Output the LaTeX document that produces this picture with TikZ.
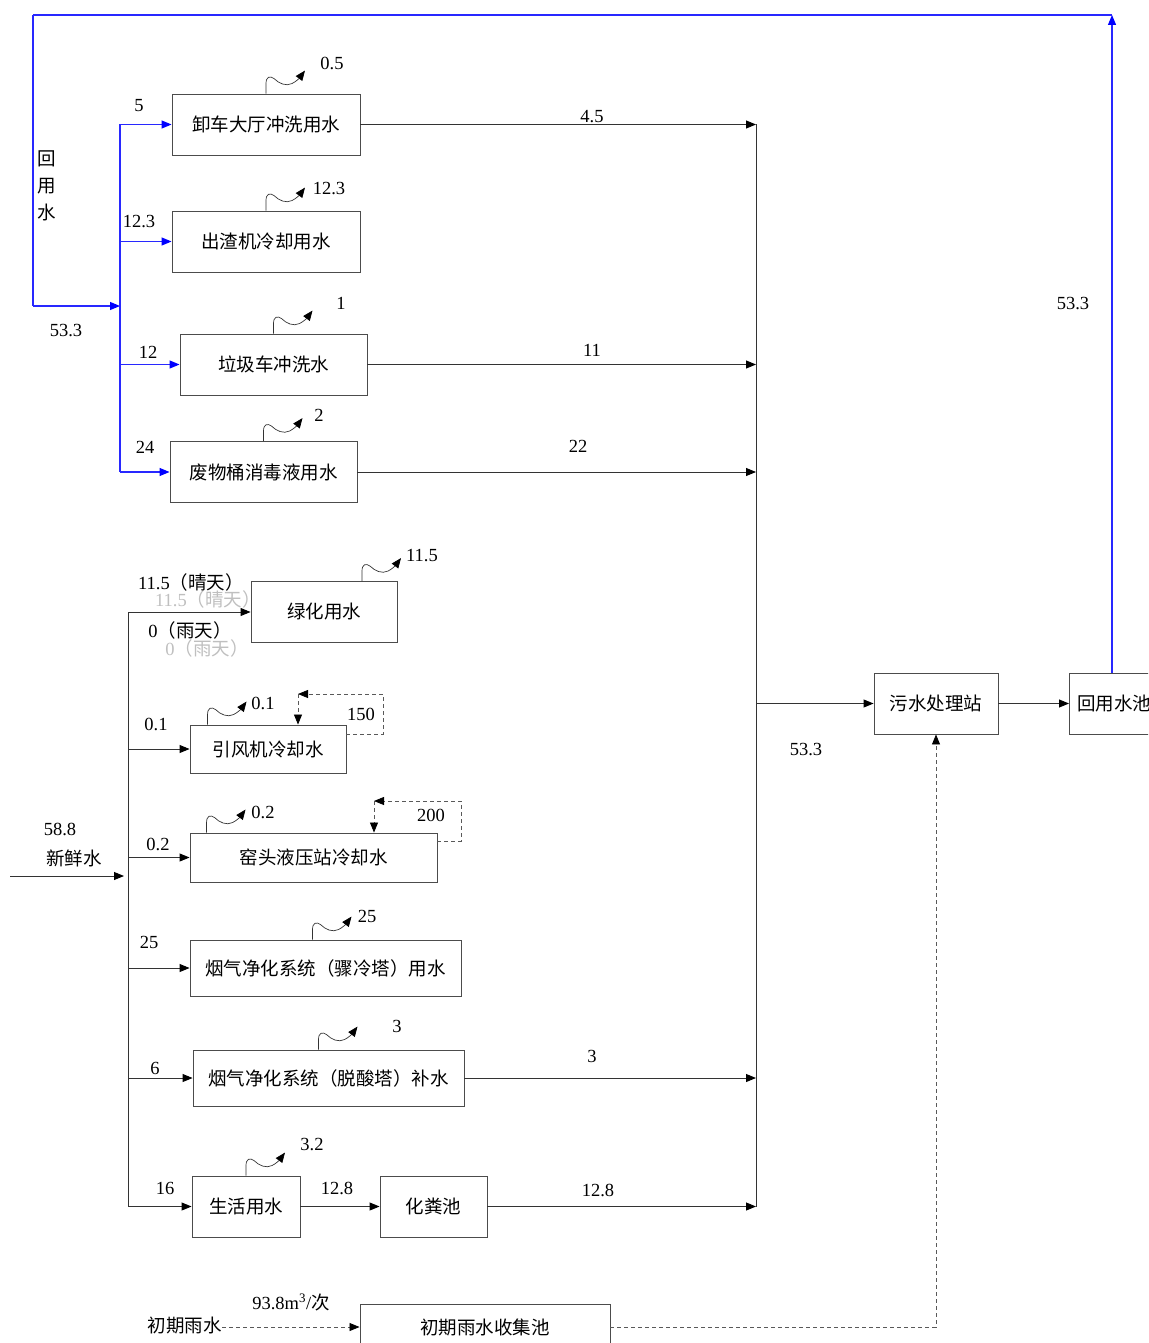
\documentclass[tikz,border=0pt]{standalone}
\usepackage{fontspec}
\setmainfont{Liberation Serif}
\newfontfamily\cjk{Noto Sans CJK SC}
\usetikzlibrary{arrows.meta,calc}
\definecolor{recyc}{RGB}{40,40,255}
\tikzset{
  ln/.style={draw=black!80, line width=0.9pt},
  ar/.style={ln, -{Triangle[length=10pt,width=8pt,black]}},
  bl/.style={draw=recyc, line width=1.1pt},
  blar/.style={bl, -{Triangle[length=10pt,width=8pt,blue]}},
  dsh/.style={draw=black!65, line width=0.8pt, dash pattern=on 4pt off 3pt},
  dsar/.style={dsh, -{Triangle[length=10pt,width=8pt,black]}},
  box/.style={draw=black!70, line width=0.9pt, fill=white, font=\cjk\fontsize{18.5}{20}\selectfont, inner sep=0pt, minimum height=61pt},
  lbl/.style={font=\fontsize{18.5}{20}\selectfont, inner sep=0pt},
  clbl/.style={font=\cjk\fontsize{18.5}{20}\selectfont, inner sep=0pt},
  ghost/.style={lbl, text=black!25},
}
\newcommand\vapor[1]{\draw[ar, line width=0.7pt, shift={(#1)}] (0,0) -- (0,-10) .. controls (0,-17) and (4,-18) .. (8,-15) .. controls (13,-10) and (20,-7) .. (26,-10) .. controls (30,-12) and (33,-15) .. (39,-23);}
\begin{document}
\begin{tikzpicture}[x=1pt,y=-1pt]
\useasboundingbox (0,0) rectangle (1148,1343);
\clip (0,0) rectangle (1148,1343);

% ghost labels (behind boxes)
\node[ghost] (g1) at (208,599) {11.5{\cjk（晴天）}};
\node[ghost] (g2) at (207,648) {0{\cjk（雨天）}};

% boxes
\node[box, minimum width=188pt] (b1) at (266,124.5) {卸车大厅冲洗用水};
\node[box, minimum width=188pt] (b2) at (266,241.5) {出渣机冷却用水};
\node[box, minimum width=187pt] (b3) at (273.5,364.5) {垃圾车冲洗水};
\node[box, minimum width=187pt] (b4) at (263.5,472) {废物桶消毒液用水};
\node[box, minimum width=146pt] (b5) at (324,612) {绿化用水};
\node[box, minimum width=156pt, minimum height=48pt] (b6) at (268,749) {引风机冷却水};
\node[box, minimum width=247pt, minimum height=49pt] (b7) at (313.5,857.5) {窑头液压站冷却水};
\node[box, minimum width=271pt, minimum height=56pt] (b8) at (325.5,968) {烟气净化系统（骤冷塔）用水};
\node[box, minimum width=271pt, minimum height=56pt] (b9) at (328.5,1078) {烟气净化系统（脱酸塔）补水};
\node[box, minimum width=108pt] (b10) at (246,1206.5) {生活用水};
\node[box, minimum width=107pt] (b11) at (433.5,1206.5) {化粪池};
\node[box, minimum width=124pt] (b12) at (936,703.5) {污水处理站};
\node[box, minimum width=90pt, anchor=west] (b13) at (1069,703.5) {回用水池};
\node[box, minimum width=250pt, minimum height=46pt] (b14) at (485,1327) {初期雨水收集池};

% ---- recycled water (blue) ----
\coordinate (pooltop) at ($(b13.north west)+(43,0)$);
\coordinate (tr) at (1112,15);
\coordinate (tl) at (33,15);
\coordinate (lb) at (33,306);
\coordinate (btop) at (120,124.5);
\coordinate (bbot) at (120,472);
\coordinate (bfeed) at (120,306);
\draw[blar] (pooltop) -- (tr);
\draw[bl] (tr) -- (tl);
\draw[bl] (tl) -- (lb);
\draw[blar] (lb) -- (bfeed);
\draw[bl] (btop) -- (bbot);
\draw[blar] (btop) -- (b1.west);
\draw[blar] (b2.west -| btop) -- (b2.west);
\draw[blar] (b3.west -| btop) -- (b3.west);
\draw[blar] (bbot) -- (b4.west);
\node[lbl] (l5) at (139,106) {5};
\node[lbl] (l123) at (139,222) {12.3};
\node[lbl] (l12) at (148,352) {12};
\node[lbl] (l24) at (145,447) {24};
\node[lbl] (l533a) at (66,331) {53.3};
\node[clbl, align=center, font=\cjk\fontsize{18.5}{27}\selectfont] (hys) at (47,186) {回\\用\\水};
\node[lbl] (l533b) at (1073,304) {53.3};

% ---- collector ----
\coordinate (ctop) at (756,124.5);
\coordinate (cbot) at (756,1206.5);
\coordinate (cmid) at (756,703.5);
\draw[ln] (ctop) -- (cbot);
\draw[ar] (b1.east) -- (ctop);
\draw[ar] (b3.east) -- (b3.east -| ctop);
\draw[ar] (b4.east) -- (b4.east -| ctop);
\draw[ar] (b9.east) -- (b9.east -| ctop);
\draw[ar] (b11.east) -- (cbot);
\draw[ar] (cmid) -- (b12.west);
\draw[ar] (b12.east) -- (b13.west);
\node[lbl] (l45) at (592,117) {4.5};
\node[lbl] (l11) at (592,350) {11};
\node[lbl] (l22) at (578,446) {22};
\node[lbl] (l3o) at (592,1056) {3};
\node[lbl] (l128o) at (598,1190) {12.8};
\node[lbl] (l533c) at (806,749) {53.3};

% ---- fresh water ----
\coordinate (fin) at (10,876);
\coordinate (ftop) at (128,612);
\coordinate (fbot) at (128,1206.5);
\coordinate (fend) at (124,876);
\draw[ar] (fin) -- (fend);
\draw[ln] (ftop) -- (fbot);
\draw[ar] (ftop) -- (b5.west);
\draw[ar] (b6.west -| ftop) -- (b6.west);
\draw[ar] (b7.west -| ftop) -- (b7.west);
\draw[ar] (b8.west -| ftop) -- (b8.west);
\draw[ar] (b9.west -| ftop) -- (b9.west);
\draw[ar] (fbot) -- (b10.west);
\draw[ar] (b10.east) -- (b11.west);
\node[lbl] (l588) at (60,829) {58.8};
\node[clbl] (xxs) at (74,858) {新鲜水};
\node[lbl] (l115q) at (191,582) {11.5{\cjk（晴天）}};
\node[lbl] (l0y) at (190,630) {0{\cjk（雨天）}};
\node[lbl] (l01i) at (156,724) {0.1};
\node[lbl] (l02i) at (158,844) {0.2};
\node[lbl] (l25i) at (149,942) {25};
\node[lbl] (l6i) at (155,1068) {6};
\node[lbl] (l16i) at (165,1188) {16};
\node[lbl] (l128i) at (337,1188) {12.8};

% ---- evaporation ----
\coordinate (v1) at (b1.north);
\coordinate (v2) at (b2.north);
\coordinate (v3) at (b3.north);
\coordinate (v4) at (b4.north);
\coordinate (v5) at ($(b5.north)+(38,0)$);
\coordinate (v6) at ($(b6.north west)+(18,0)$);
\coordinate (v7) at ($(b7.north west)+(17,0)$);
\coordinate (v8) at ($(b8.north)+(-13,0)$);
\coordinate (v9) at ($(b9.north)+(-10,0)$);
\coordinate (v10) at (b10.north);
\vapor{v1}\vapor{v2}\vapor{v3}\vapor{v4}\vapor{v5}
\vapor{v6}\vapor{v7}\vapor{v8}\vapor{v9}\vapor{v10}
\node[lbl] (e1) at (332,63) {0.5};
\node[lbl] (e2) at (329,189) {12.3};
\node[lbl] (e3) at (341,303) {1};
\node[lbl] (e4) at (319,415) {2};
\node[lbl] (e5) at (422,556) {11.5};
\node[lbl] (e6) at (263,703) {0.1};
\node[lbl] (e7) at (263,812) {0.2};
\node[lbl] (e8) at (367,916) {25};
\node[lbl] (e9) at (397,1026) {3};
\node[lbl] (e10) at (312,1144) {3.2};

% ---- circulating loops ----
\coordinate (r6a) at ($(b6.east)+(0,-15)$);
\coordinate (r6b) at (383,734);
\coordinate (r6c) at (383,694);
\coordinate (r6d) at (298,694);
\draw[dsar] (r6a) -- (r6b) -- (r6c) -- (r6d);
\draw[dsar] (r6d) -- (r6d |- b6.north);
\node[lbl] (c150) at (361,714) {150};
\coordinate (r7a) at ($(b7.east)+(0,-16.5)$);
\coordinate (r7b) at (461,841);
\coordinate (r7c) at (461,801);
\coordinate (r7d) at (374,801);
\draw[dsar] (r7a) -- (r7b) -- (r7c) -- (r7d);
\draw[dsar] (r7d) -- (r7d |- b7.north);
\node[lbl] (c200) at (431,815) {200};

% ---- rain water ----
\node[clbl, anchor=east] (rain) at (222,1325) {初期雨水};
\draw[dsar] (rain.east |- b14.west) -- (b14.west);
\node[lbl] (rv) at (291,1302) {93.8m\textsuperscript{3}/{\cjk 次}};
\coordinate (rc) at (936,1327);
\draw[dsar] (b14.east) -- (rc) -- (b12.south);
\end{tikzpicture}
\end{document}
